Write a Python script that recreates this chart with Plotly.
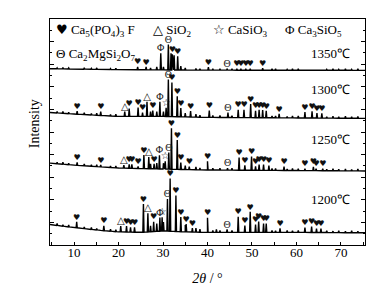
import numpy as np
import plotly.graph_objects as go

# ---------------- data (y in plot units above the frame bottom) ----------------
temps = ["1200℃", "1250℃", "1300℃", "1350℃"]

# baseline anchors per pattern
base_theta_1200 = [4.6, 8, 12, 16, 20, 25, 30, 35, 40, 50, 60, 75.4]
base_level_1200 = [21, 19, 17, 15, 13.5, 13, 14.5, 13.5, 13, 13, 13, 12.5]
base_theta_1250 = [4.6, 10, 20, 30, 40, 75.4]
base_level_1250 = [84, 82, 79, 78, 77, 76]
base_theta_1300 = [4.6, 10, 20, 30, 40, 75.4]
base_level_1300 = [136, 134.5, 132, 132, 131, 130]
base_theta_1350 = [4.6, 20, 40, 75.4]
base_level_1350 = [181, 180, 179.5, 179.3]

# labelled / main diffraction peaks: position (2θ), height above baseline, phase
peak_theta_1200 = [10.6, 16.7, 20.5, 21.8, 22.7, 23.6, 25.6, 26.6, 27.9, 29.3, 29.8, 31.0, 31.6, 32.9,
                   34.0, 35.2, 36.6, 40.0, 42.0, 44.4, 46.9, 48.4, 49.6, 50.8, 51.5, 52.6, 53.2,
                   56.3, 61.9, 63.4, 64.5, 65.5]
peak_height_1200 = [6, 5, 6, 6, 5, 5, 29, 19, 10, 14, 14, 33, 54, 37,
                    15, 8, 4, 15, 3, 3, 16, 7, 21, 8, 11, 9, 9,
                    4, 5, 6, 4, 4]
peak_phase_1200 = ["h", "h", "t", "h", "h", "h", "h", "t", "h", "f", "s", "q", "h", "h",
                   "h", "h", "h", "h", "", "q", "h", "h", "h", "h", "h", "h", "h",
                   "h", "h", "h", "h", "h"]

peak_theta_1250 = [10.7, 16.0, 21.2, 22.4, 23.0, 24.4, 25.7, 26.8, 28.0, 29.2, 30.5, 31.3, 31.9, 33.2,
                   34.0, 35.9, 40.0, 44.5, 47.1, 48.4, 49.9, 50.8, 51.6, 52.6, 53.8, 57.2,
                   61.9, 63.8, 64.4, 65.9]
peak_height_1250 = [3, 2, 3, 4, 4, 2, 14, 12, 5, 14, 8, 17, 42, 30,
                    7, 3, 9, 2, 13, 5, 14, 4, 6, 6, 5, 4,
                    2, 4, 2, 2]
peak_phase_1250 = ["h", "h", "t", "h", "h", "h", "h", "t", "h", "f", "s", "q", "h", "h",
                   "h", "h", "h", "q", "h", "h", "h", "h", "h", "h", "h", "h",
                   "h", "h", "h", "h"]

peak_theta_1300 = [10.7, 16.0, 21.4, 22.4, 24.4, 25.4, 26.4, 27.7, 29.3, 30.7, 31.2, 32.0, 33.2,
                   34.0, 36.2, 40.4, 44.6, 46.9, 48.2, 49.7, 50.8, 51.6, 52.4, 53.2, 56.1,
                   61.9, 63.5, 64.6, 65.7]
peak_height_1300 = [3, 4, 5, 8, 9, 4, 15, 6, 15, 9, 38, 35, 21,
                    9, 6, 7, 5, 8, 8, 14, 7, 8, 8, 7, 4,
                    6, 7, 5, 5]
peak_phase_1300 = ["h", "h", "t", "h", "h", "h", "t", "h", "f", "s", "q", "h", "h",
                   "h", "h", "h", "q", "h", "h", "h", "h", "h", "h", "h", "h",
                   "h", "h", "h", "h"]

peak_theta_1350 = [24.3, 26.2, 29.5, 31.2, 31.8, 32.1, 32.5, 33.3, 34.0, 40.2, 44.4,
                   46.6, 47.5, 48.6, 49.6, 52.4]
peak_height_1350 = [3, 3, 17, 26, 17, 16, 15, 14, 4, 3, 1,
                    1.5, 1.5, 1.5, 1.5, 2]
peak_phase_1350 = ["h", "h", "f", "q", "", "h", "", "h", "", "h", "q",
                   "h", "h", "h", "h", "h"]

# small background wiggles (same positions for every pattern, heights per pattern)
noise_theta = [6.2, 7.5, 8.8, 12.3, 13.9, 15.1, 18.2, 19.4, 27.2, 28.6, 30.1, 35.0, 37.4, 38.3,
               41.2, 42.8, 45.5, 54.5, 55.3, 57.9, 59.1, 60.4, 66.8, 68.2, 69.5, 71.0, 72.4, 73.8]
noise_height_1200 = [2, 1.5, 2, 1.5, 2, 1.5, 2, 2, 6, 8, 9, 7, 4, 3,
                     2, 2, 2, 2, 1.5, 2, 1.5, 2, 2, 1.5, 2, 1.5, 2, 1.5]
noise_height_1250 = [1.5, 2, 1.5, 2, 1.5, 2, 1.5, 2, 5, 6, 6, 4, 3, 2,
                     2, 2, 2, 2, 2, 1.5, 2, 2, 1.5, 2, 1.5, 2, 1.5, 2]
noise_height_1300 = [1.5, 2, 1.5, 2, 1.5, 2, 1.5, 2, 5, 5, 5, 4, 3, 2,
                     2, 2, 2, 2, 2, 1.5, 2, 2, 1.5, 2, 1.5, 2, 1.5, 2]
noise_height_1350 = [1, 1.5, 1, 1.5, 1, 1.5, 1, 1.5, 2, 3, 3, 2, 1.5, 1.5,
                     1.5, 1.5, 1.5, 1.5, 1.5, 1, 1.5, 1.5, 1, 1.5, 1, 1.5, 1, 1.5]

legend_items = [
    ("♥", "Ca<sub>5</sub>(PO<sub>4</sub>)<sub>3</sub> F"),
    ("△", "SiO<sub>2</sub>"),
    ("☆", "CaSiO<sub>3</sub>"),
    ("Φ", "Ca<sub>3</sub>SiO<sub>5</sub>"),
    ("Θ", "Ca<sub>2</sub>MgSi<sub>2</sub>O<sub>7</sub>"),
]
x_ticks = [10, 20, 30, 40, 50, 60, 70]

# ---------------- figure ----------------
SERIF = "Liberation Serif, Times New Roman, serif"
patterns = [
    (base_theta_1200, base_level_1200, peak_theta_1200, peak_height_1200, peak_phase_1200, noise_height_1200),
    (base_theta_1250, base_level_1250, peak_theta_1250, peak_height_1250, peak_phase_1250, noise_height_1250),
    (base_theta_1300, base_level_1300, peak_theta_1300, peak_height_1300, peak_phase_1300, noise_height_1300),
    (base_theta_1350, base_level_1350, peak_theta_1350, peak_height_1350, peak_phase_1350, noise_height_1350),
]

fig = go.Figure()
symbols = {"h": "♥", "t": "△", "s": "☆", "f": "Φ", "q": "Θ"}
sym_pts = {k: ([], []) for k in symbols}
hw = 0.13
for bt, bl, pt, ph, pp, nh in patterns:
    xs, ys = list(bt), list(bl)
    for t, h in list(zip(pt, ph)) + list(zip(noise_theta, nh)):
        b = float(np.interp(t, bt, bl))
        xs += [t - hw, t, t + hw]
        ys += [b, b + h, b]
    order = np.argsort(xs, kind="stable")
    fig.add_trace(go.Scatter(x=np.array(xs)[order], y=np.array(ys)[order], mode="lines",
                             line=dict(color="black", width=1.4), hoverinfo="skip"))
    for t, h, p in zip(pt, ph, pp):
        if p:
            b = float(np.interp(t, bt, bl))
            sym_pts[p][0].append(t)
            sym_pts[p][1].append(b + h + 4.5)

sym_font = {"h": ("DejaVu Sans", 8), "t": ("DejaVu Sans", 10), "s": ("DejaVu Sans", 10),
            "f": (SERIF, 10), "q": (SERIF, 10)}
for k, (xs, ys) in sym_pts.items():
    fam, sz = sym_font[k]
    fig.add_trace(go.Scatter(x=xs, y=ys, mode="text", text=[symbols[k]] * len(xs),
                             textposition="middle center",
                             textfont=dict(family=fam, size=sz, color="#111"), hoverinfo="skip"))

# temperature labels
temp_y = [47, 108, 160, 197]
for lbl, yy in zip(temps, temp_y):
    fig.add_annotation(x=72.5, y=yy, text=lbl, showarrow=False, xanchor="right",
                       font=dict(family=SERIF, size=13, color="black"))

# legend text inside frame
leg_pos = [(0.012, 220), (0.322, 220), (0.51, 220), (0.74, 220), (0.012, 196)]
for (sym, name), (px, py) in zip(legend_items, leg_pos):
    sf = "DejaVu Sans" if sym in "♥△☆" else SERIF
    fig.add_annotation(xref="paper", x=px, y=py, xanchor="left", showarrow=False,
                       text=f"<span style='font-family:{sf}'>{sym}</span> {name}",
                       font=dict(family=SERIF, size=13, color="black"))

fig.add_annotation(xref="paper", x=0, xanchor="center", xshift=-16, y=124, text="Intensity",
                   textangle=-90, showarrow=False, font=dict(family=SERIF, size=14, color="black"))

fig.update_layout(
    width=377, height=286, margin=dict(l=42, r=20, t=10, b=44),
    paper_bgcolor="white", plot_bgcolor="white", showlegend=False,
    font=dict(family=SERIF, color="black"),
    xaxis=dict(range=[4.6, 75.4], tickvals=x_ticks, ticks="inside", ticklen=3, tickcolor="black",
               minor=dict(dtick=5, tick0=0, ticks="inside", ticklen=3, tickcolor="black"),
               showline=True, linecolor="black", linewidth=1.2, mirror=True, showgrid=False,
               zeroline=False, tickfont=dict(family=SERIF, size=13, color="black"),
               ticklabelstandoff=-5,
               title=dict(text="<i>2θ</i> / °", font=dict(family=SERIF, size=14, color="black"),
                          standoff=14)),
    yaxis=dict(range=[0, 232], dtick=23.2, tick0=0, ticks="inside", ticklen=4, tickcolor="black",
               minor=dict(dtick=11.6, tick0=0, ticks="inside", ticklen=2, tickcolor="black"),
               showticklabels=False, showline=True, linecolor="black", linewidth=1.2,
               mirror="ticks", showgrid=False, zeroline=False),
)

fig.write_html("out.html")
